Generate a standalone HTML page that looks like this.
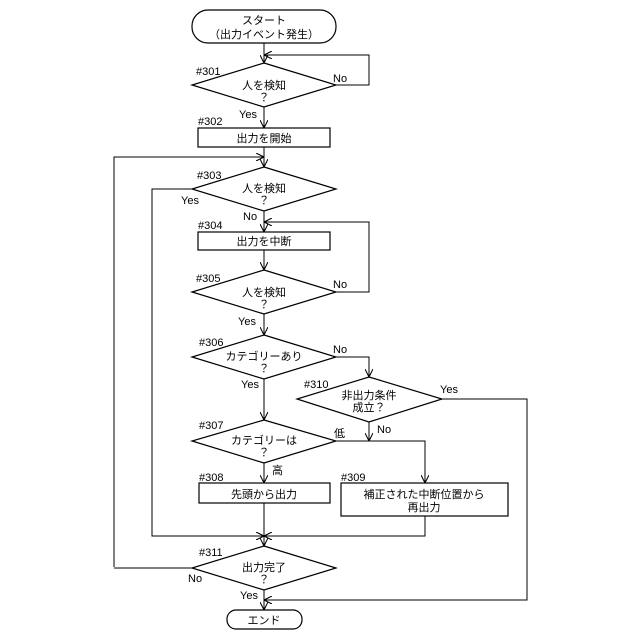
<!DOCTYPE html>
<html><head><meta charset="utf-8"><style>
html,body{margin:0;padding:0;background:#fff;}
svg{display:block;}
text{font-family:"Liberation Sans","Noto Sans CJK JP",sans-serif;font-size:11px;fill:#000;}
.t{text-anchor:middle;}
</style></head><body>
<svg width="640" height="640" viewBox="0 0 640 640" xmlns="http://www.w3.org/2000/svg">
<defs><marker id="a" viewBox="0 0 10 10" refX="10" refY="5" markerWidth="8" markerHeight="8" orient="auto-start-reverse"><path d="M0,0 L10,5 L0,10" fill="none" stroke="#000" stroke-width="1.3"/></marker></defs>
<g fill="none" stroke="#000" stroke-width="1.2">
<rect x="192" y="10" width="144" height="33" rx="16"/>
<polygon points="264,63 336,85 264,107 192,85"/>
<rect x="198" y="128" width="132" height="19"/>
<polygon points="264,167 336,189 264,211 192,189"/>
<rect x="198" y="232" width="132" height="18"/>
<polygon points="264,270 336,292 264,314 192,292"/>
<polygon points="264,335 336,357 264,379 192,357"/>
<polygon points="369,377 442,399 369,422 297,399"/>
<polygon points="264,420 336,441 264,463 192,441"/>
<rect x="199" y="483" width="131" height="20"/>
<rect x="341" y="483" width="167" height="33"/>
<polygon points="264,546 336,568 264,590 192,568"/>
<rect x="227" y="610" width="75" height="19" rx="9"/>
</g>
<g fill="none" stroke="#000" stroke-width="1" marker-end="url(#a)">
<path d="M264,43 V63"/>
<path d="M336,85 H369 V55 H264"/>
<path d="M264,107 V128"/>
<path d="M264,147 V167"/>
<path d="M114,567 V157 H264"/>
<path d="M264,211 V232"/>
<path d="M336,292 H369 V222 H264"/>
<path d="M264,250 V270"/>
<path d="M264,314 V335"/>
<path d="M336,357 H369 V377"/>
<path d="M264,379 V420"/>
<path d="M369,422 V441"/>
<path d="M336,441 H425 V483"/>
<path d="M264,463 V483"/>
<path d="M192,189 H152 V536 H264"/>
<path d="M425,516 V536 H264"/>
<path d="M264,503 V546"/>
<path d="M442,399 H527 V600 H264"/>
<path d="M264,590 V610"/>
</g>
<path d="M192,568 H114" stroke="#000" stroke-width="1"/>
<text class="t" x="264" y="24">スタート</text>
<text class="t" x="264" y="38">（出力イベント発生）</text>
<text x="196" y="75">#301</text>
<text class="t" x="264" y="89">人を検知</text>
<text class="t" x="264" y="101">？</text>
<text x="333" y="82">No</text>
<text x="239" y="118">Yes</text>
<text x="198" y="125">#302</text>
<text class="t" x="264" y="142">出力を開始</text>
<text x="197" y="179">#303</text>
<text class="t" x="264" y="192">人を検知</text>
<text class="t" x="264" y="204">？</text>
<text x="181" y="204">Yes</text>
<text x="243" y="220">No</text>
<text x="198" y="229">#304</text>
<text class="t" x="264" y="245">出力を中断</text>
<text x="196" y="282">#305</text>
<text class="t" x="264" y="296">人を検知</text>
<text class="t" x="264" y="308">？</text>
<text x="333" y="288">No</text>
<text x="238" y="325">Yes</text>
<text x="199" y="346">#306</text>
<text class="t" x="264" y="360">カテゴリーあり</text>
<text class="t" x="264" y="372">？</text>
<text x="333" y="353">No</text>
<text x="241" y="388">Yes</text>
<text x="304" y="388">#310</text>
<text class="t" x="369" y="399">非出力条件</text>
<text class="t" x="369" y="411">成立？</text>
<text x="440" y="393">Yes</text>
<text x="377" y="433">No</text>
<text x="199" y="429">#307</text>
<text class="t" x="264" y="444">カテゴリーは</text>
<text class="t" x="264" y="456">？</text>
<text x="334" y="437">低</text>
<text x="272" y="474">高</text>
<text x="199" y="481">#308</text>
<text class="t" x="264" y="498">先頭から出力</text>
<text x="341" y="481">#309</text>
<text class="t" x="424" y="498">補正された中断位置から</text>
<text class="t" x="424" y="511">再出力</text>
<text x="199" y="556">#311</text>
<text class="t" x="264" y="571">出力完了</text>
<text class="t" x="264" y="583">？</text>
<text x="188" y="582">No</text>
<text x="240" y="599">Yes</text>
<text class="t" x="264" y="624">エンド</text>
</svg>
</body></html>
